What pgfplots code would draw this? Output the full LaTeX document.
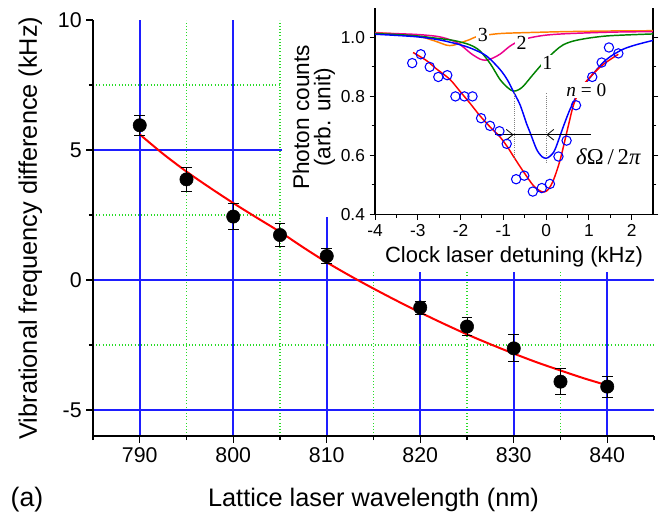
\documentclass[border=0pt]{standalone}
\usepackage{fontspec}
\setmainfont{Liberation Sans}
\newfontfamily\serif{Liberation Serif}
\usepackage{pgfplots}
\pgfplotsset{compat=1.18}
\usetikzlibrary{arrows.meta}
\definecolor{gridgreen}{RGB}{40,220,40}
\definecolor{gridblue}{RGB}{30,30,255}
\definecolor{darkgreen}{RGB}{0,130,0}
\definecolor{orng}{RGB}{255,128,0}
\begin{document}
\begin{tikzpicture}
\useasboundingbox (0pt,0pt) rectangle (498.75pt,-385.5pt);
% ---------------- main axis ----------------
\begin{axis}[
  at={(69.75pt,-327pt)}, anchor=south west,
  width=420.75pt, height=312pt, scale only axis,
  xmin=785, xmax=845, ymin=-6, ymax=10,
  axis x line*=bottom, axis y line*=left,
  axis line style={line width=1.1pt},
  xtick={790,800,...,840}, ytick={-5,0,5},
  minor xtick={795,805,...,835}, minor ytick={-2.5,2.5,7.5},
  extra y ticks={10}, extra y tick style={grid=none},
  extra x ticks={785,845}, extra x tick labels={},
  extra x tick style={grid=none, major tick length=3pt},
  tick align=outside, major tick length=5pt, minor tick length=3pt,
  tick style={black, line width=0.9pt},
  grid=both,
  major grid style={gridblue, line width=1.2pt},
  minor grid style={gridgreen, dotted, line width=0.9pt},
  /pgf/number format/assume math mode=true,
  ticklabel style={font=\fontsize{16}{16}\selectfont},
  xlabel={Lattice laser wavelength (nm)},
  xlabel style={font=\fontsize{19}{19}\selectfont, at={(axis description cs:0.5,-0.1538)}, anchor=center},
  ylabel={Vibrational frequency difference (kHz)},
  ylabel style={font=\fontsize{19}{19}\selectfont, at={(axis description cs:-0.1117,0.5)}, anchor=center},
]
\addplot[red, line width=1.5pt, smooth] coordinates {
 (790,5.60) (792.5,4.85) (795,4.17) (797.5,3.55) (800,2.96) (802.5,2.40)
 (805,1.85) (807.5,1.25) (810,0.68) (812.5,0.16) (815,-0.33) (817.5,-0.80)
 (820,-1.25) (822.5,-1.68) (825,-2.09) (827.5,-2.47) (830,-2.83) (832.5,-3.17)
 (835,-3.48) (837.5,-3.78) (840,-4.05)};
\addplot[only marks, mark=*, mark size=5pt, black,
  error bars/.cd, y dir=both, y explicit,
  error bar style={line width=0.75pt, black},
  error mark options={rotate=90, mark size=4pt, line width=0.75pt, black}]
 coordinates {
 (790,5.95) +- (0,0.38)
 (795,3.87) +- (0,0.45)
 (800,2.44) +- (0,0.50)
 (805,1.73) +- (0,0.45)
 (810,0.92) +- (0,0.30)
 (820,-1.06) +- (0,0.25)
 (825,-1.79) +- (0,0.35)
 (830,-2.63) +- (0,0.52)
 (835,-3.91) +- (0,0.50)
 (840,-4.10) +- (0,0.40)};
\end{axis}
\node[font=\fontsize{20}{20}\selectfont] at (20.25pt,-375pt) {(a)};
% white backdrop behind the inset
\fill[white] (211.5pt,0pt) rectangle (498.75pt,-162.75pt);
\fill[white] (270pt,-162.75pt) rectangle (498.75pt,-204pt);
% ---------------- inset ----------------
\begin{axis}[
  at={(281.25pt,-160.7pt)}, anchor=south west,
  width=208.5pt, height=154.7pt, scale only axis,
  xmin=-4, xmax=2.5, ymin=0.4, ymax=1.1,
  axis x line*=bottom, axis y line*=box, ytick pos=both,
  axis line style={line width=0.9pt},
  xtick={-4,-3,...,2}, minor x tick num=1,
  ytick={0.4,0.6,0.8,1.0}, minor y tick num=1,
  tick align=outside, major tick length=4pt, minor tick length=2.5pt,
  tick style={black, line width=0.7pt},
  /pgf/number format/assume math mode=true,
  ticklabel style={font=\fontsize{13}{13}\selectfont},
  yticklabel style={/pgf/number format/fixed, /pgf/number format/precision=1, /pgf/number format/fixed zerofill},
  xlabel={Clock laser detuning (kHz)},
  xlabel style={font=\fontsize{16.5}{16.5}\selectfont, at={(axis description cs:0.5,-0.207)}, anchor=center},
  ylabel={Photon counts\\(arb. unit)},
  ylabel style={font=\fontsize{17}{16}\selectfont, align=center, at={(axis description cs:-0.22,0.47)}, anchor=center},
]
% n=3
\addplot[orng, line width=1.1pt, smooth] coordinates {
 (-4,1.017) (-3.5,1.012) (-3,1.005) (-2.6,0.988) (-2.33,0.974) (-2.2,0.973)
 (-2.09,0.977) (-1.9,0.987) (-1.78,0.993) (-1.62,1.003) (-1.3,1.010) (-1.0,1.014)
 (-0.34,1.017) (0.5,1.020) (1.5,1.022) (2.5,1.023)};
% n=2
\addplot[magenta, line width=1.1pt, smooth] coordinates {
 (-4,1.015) (-3.5,1.013) (-3,1.010) (-2.56,1.004) (-2.3,0.995) (-2.09,0.983)
 (-1.94,0.968) (-1.75,0.945) (-1.55,0.927) (-1.43,0.923) (-1.31,0.926)
 (-1.08,0.943) (-0.84,0.971) (-0.6,0.990) (-0.34,1.000) (0,1.008) (0.5,1.013)
 (1.5,1.018) (2.5,1.020)};
% n=1
\addplot[darkgreen, line width=1.1pt, smooth] coordinates {
 (-4,1.013) (-3.5,1.010) (-3,1.005) (-2.6,0.998) (-2.17,0.990) (-1.8,0.976)
 (-1.55,0.955) (-1.3,0.910) (-1.08,0.858) (-0.9,0.830) (-0.77,0.818)
 (-0.65,0.822) (-0.53,0.835) (-0.3,0.875) (-0.06,0.915) (0.21,0.954)
 (0.4,0.975) (0.64,0.988) (1.0,0.998) (1.5,1.006) (2.5,1.012)};
% n=0
\addplot[blue, line width=1.1pt, smooth] coordinates {
 (-4,1.011) (-3.5,1.007) (-3,1.002) (-2.5,0.992) (-2.0,0.975) (-1.7,0.960)
 (-1.39,0.937) (-1.08,0.892) (-0.9,0.855) (-0.77,0.818) (-0.61,0.772)
 (-0.45,0.705) (-0.37,0.676) (-0.22,0.620) (-0.1,0.596) (0,0.590) (0.1,0.598)
 (0.21,0.620) (0.41,0.700) (0.56,0.756) (0.75,0.810) (1.03,0.864) (1.3,0.910)
 (1.5,0.935) (1.8,0.960) (2.1,0.975) (2.5,0.990)};
% fit
\addplot[red, line width=1.1pt, smooth] coordinates {
 (-3.11,0.949) (-2.8,0.922) (-2.56,0.893) (-2.25,0.858) (-2.0,0.815) (-1.78,0.777)
 (-1.55,0.735) (-1.3,0.695) (-1.08,0.663) (-0.9,0.628) (-0.77,0.598) (-0.6,0.560)
 (-0.45,0.528) (-0.3,0.498) (-0.14,0.479) (-0.04,0.476) (0.05,0.484) (0.17,0.515)
 (0.33,0.585) (0.52,0.700) (0.64,0.770) (0.8,0.825) (1.07,0.872) (1.35,0.910) (1.69,0.943)};
% data
\addplot[only marks, mark=o, mark size=3.5pt, blue, mark options={line width=0.8pt}] coordinates {
 (-3.13,0.913) (-2.93,0.943) (-2.72,0.900) (-2.52,0.866) (-2.31,0.872) (-2.12,0.800)
 (-1.91,0.800) (-1.72,0.800) (-1.52,0.726) (-1.31,0.700) (-1.09,0.682) (-0.92,0.639)
 (-0.70,0.519) (-0.51,0.531) (-0.31,0.477) (-0.10,0.489) (0.09,0.503) (0.29,0.596)
 (0.48,0.650) (0.70,0.770) (1.08,0.866) (1.30,0.915) (1.47,0.966) (1.69,0.946)};
% annotations
\draw[gray, densely dotted, line width=0.6pt] (axis cs:-0.75,0.815) -- (axis cs:-0.75,0.59);
\draw[gray, densely dotted, line width=0.6pt] (axis cs:0,0.81) -- (axis cs:0,0.574);
\draw[black, line width=0.7pt] (axis cs:-1.19,0.67) -- (axis cs:1.05,0.67);
\draw[black, line width=0.6pt, -{Straight Barb[length=5pt,width=8pt]}] (axis cs:-1.19,0.67) -- (axis cs:-0.76,0.67);
\draw[black, line width=0.6pt, -{Straight Barb[length=5pt,width=8pt]}] (axis cs:1.05,0.67) -- (axis cs:0.01,0.67);
\node[fill=white, inner sep=1pt, font=\serif\fontsize{15}{15}\selectfont] at (axis cs:-1.48,1.008) {3};
\node[fill=white, inner sep=1pt, font=\serif\fontsize{15}{15}\selectfont] at (axis cs:-0.57,0.983) {2};
\node[fill=white, inner sep=1pt, font=\serif\fontsize{15}{15}\selectfont] at (axis cs:0.03,0.915) {1};
\node[fill=white, inner sep=1pt, font=\serif\fontsize{14.5}{14.5}\selectfont] at (axis cs:0.94,0.821) {\textit{n} = 0};
\node[inner sep=1pt, font=\serif\fontsize{17}{17}\selectfont] at (axis cs:1.46,0.596) {\textit{δ}Ω\,/\,2\textit{π}};
\end{axis}
\end{tikzpicture}
\end{document}
